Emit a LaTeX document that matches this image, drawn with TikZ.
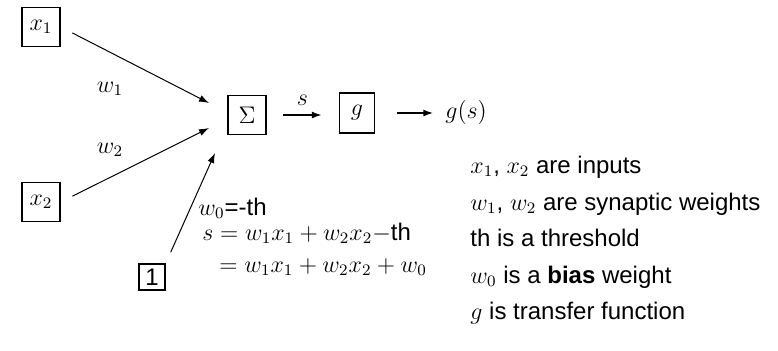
\documentclass[tikz,border=0pt]{standalone}
\usepackage{fontspec}
\setmainfont{Liberation Sans}
\usetikzlibrary{arrows.meta}
\begin{document}
\begin{tikzpicture}[x=0.5pt,y=-0.5pt,every node/.style={font=\large},
  unit/.style={draw,thick,minimum width=19pt,minimum height=19.5pt,inner sep=1pt},
  wire/.style={-{Latex[length=5pt,width=3.5pt]},line width=0.5pt},
  note/.style={anchor=base west,inner sep=0pt}]
  \useasboundingbox (0,0) rectangle (778,350);
  % inputs
  \node[unit] (x1) at (41,27) {$x_1$};
  \node[unit] (x2) at (41,202) {$x_2$};
  \node[draw,thick,minimum size=13pt,inner sep=0.5pt] (one) at (152,277) {1};
  % summation and transfer
  \node[unit] (sum) at (247,115) {$\Sigma$};
  \node[unit,minimum width=17.5pt,minimum height=20pt] (g) at (357,113) {$g$};
  \node[anchor=west,inner sep=0pt] (out) at (445,112) {$g(s)$};
  \coordinate (in1) at (209,103);
  \coordinate (in2) at (209,128);
  \coordinate (in0) at (215,153);
  \draw[wire,shorten <=6.5pt] (x1.east) -- (in1);
  \draw[wire,shorten <=6.5pt] (x2.east) -- (in2);
  \draw[wire,shorten <=6pt] (one.north east) -- (in0);
  \draw[wire,thick] (sum.east) ++(16,0) -- ++(39,0) node[midway,above=1pt] (slab) {$s$};
  \draw[wire,thick] (g.east) ++(22,0) -- ++(36,0);
  % weights
  \node (w1) at (110,89) {$w_1$};
  \node (w2) at (110,150) {$w_2$};
  % bias and sum
  \node[note] (w0) at (198,215) {$w_0$=-th};
  \node[note] (seq) at (202,240) {$s = w_1x_1 + w_2x_2 - $th};
  \node[note] (seq2) at (219,272) {$= w_1x_1 + w_2x_2 + w_0$};
  % legend
  \node[note] (l1) at (470,173) {$x_1$, $x_2$ are inputs};
  \node[note] (l2) at (470,210) {$w_1$, $w_2$ are synaptic weights};
  \node[note] (l3) at (470,246) {th is a threshold};
  \node[note] (l4) at (470,283) {$w_0$ is a \textbf{bias} weight};
  \node[note] (l5) at (470,319) {$g$ is transfer function};
\end{tikzpicture}
\end{document}
